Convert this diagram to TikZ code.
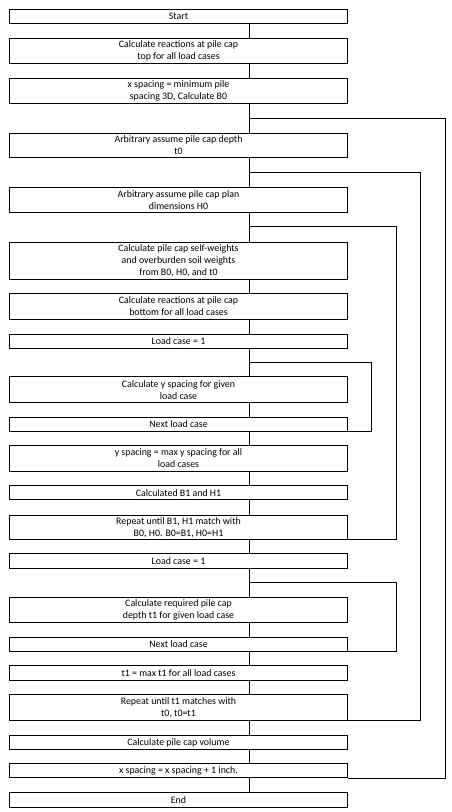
\documentclass[tikz,border=0pt]{standalone}
\usepackage{fontspec}
\setmainfont{Carlito}
\begin{document}
\begin{tikzpicture}[x=1pt,y=-1pt,
  box/.style={draw=black,line width=0.8pt,fill=white,minimum width=338.4pt,inner sep=0pt,
    align=center,font=\fontsize{9.9}{12}\selectfont,anchor=north},
  ln/.style={draw=black,line width=0.8pt}]
\useasboundingbox (0,0) rectangle (451,812);
\fill[white] (0,0) rectangle (451,812);
\def\bx{178.5}
\def\sx{249.7}
% boxes: top y, height
\node[box,minimum height=14pt] (b1) at (\bx,9.3) {Start};
\node[box,minimum height=25.3pt] (b2) at (\bx,38) {Calculate reactions at pile cap\\top for all load cases};
\node[box,minimum height=25.3pt] (b3) at (\bx,78) {x spacing = minimum pile\\spacing 3D, Calculate B0};
\node[box,minimum height=24.6pt] (b4) at (\bx,132.7) {Arbitrary assume pile cap depth\\t0};
\node[box,minimum height=25.3pt] (b5) at (\bx,186.7) {Arbitrary assume pile cap plan\\dimensions H0};
\node[box,minimum height=37.3pt] (b6) at (\bx,241.7) {Calculate pile cap self-weights\\and overburden soil weights\\from B0, H0, and t0};
\node[box,minimum height=25.7pt] (b7) at (\bx,293) {Calculate reactions at pile cap\\bottom for all load cases};
\node[box,minimum height=14pt] (b8) at (\bx,333.7) {Load case = 1};
\node[box,minimum height=26pt] (b9) at (\bx,376.3) {Calculate y spacing for given\\load case};
\node[box,minimum height=14pt] (b10) at (\bx,416.7) {Next load case};
\node[box,minimum height=25.4pt] (b11) at (\bx,445.3) {y spacing = max y spacing for all\\load cases};
\node[box,minimum height=14pt] (b12) at (\bx,485.3) {Calculated B1 and H1};
\node[box,minimum height=24.3pt] (b13) at (\bx,514.7) {Repeat until B1, H1 match with\\B0, H0. B0=B1, H0=H1};
\node[box,minimum height=15pt] (b14) at (\bx,553.3) {Load case = 1};
\node[box,minimum height=25pt] (b15) at (\bx,597.3) {Calculate required pile cap\\depth t1 for given load case};
\node[box,minimum height=14pt] (b16) at (\bx,637) {Next load case};
\node[box,minimum height=14.7pt] (b17) at (\bx,665) {t1 = max t1 for all load cases};
\node[box,minimum height=25.7pt] (b18) at (\bx,694.3) {Repeat until t1 matches with\\t0, t0=t1};
\node[box,minimum height=14.6pt] (b19) at (\bx,734.7) {Calculate pile cap volume};
\node[box,minimum height=14pt] (b20) at (\bx,763.3) {x spacing = x spacing + 1 inch.};
\node[box,minimum height=14.4pt] (b21) at (\bx,792.3) {End};
\coordinate (spine) at (\sx,0);
% spine connectors
\foreach \a/\b in {b1/b2,b2/b3,b3/b4,b4/b5,b5/b6,b6/b7,b7/b8,b8/b9,b9/b10,b10/b11,b11/b12,b12/b13,b13/b14,b14/b15,b15/b16,b16/b17,b17/b18,b18/b19,b19/b20,b20/b21}
  \draw[ln] (\a.south -| spine) -- (\b.north -| spine);
% loops
\coordinate (l1) at (\sx,118);   \coordinate (r1) at (445.7,118);
\coordinate (l2) at (\sx,172.3); \coordinate (r2) at (420.3,172.3);
\coordinate (l3) at (\sx,226.7); \coordinate (r3) at (396.3,226.7);
\coordinate (l4) at (\sx,362.3); \coordinate (r4) at (371,362.3);
\coordinate (l5) at (\sx,582.3); \coordinate (r5) at (396.3,582.3);
\draw[ln] (l1) -- (r1) |- (b20.south east);
\draw[ln] (l2) -- (r2) |- (b18.south east);
\draw[ln] (l3) -- (r3) |- (b13.south east);
\draw[ln] (l4) -- (r4) |- (b10.south east);
\draw[ln] (l5) -- (r5) |- (b16.south east);
\end{tikzpicture}
\end{document}
